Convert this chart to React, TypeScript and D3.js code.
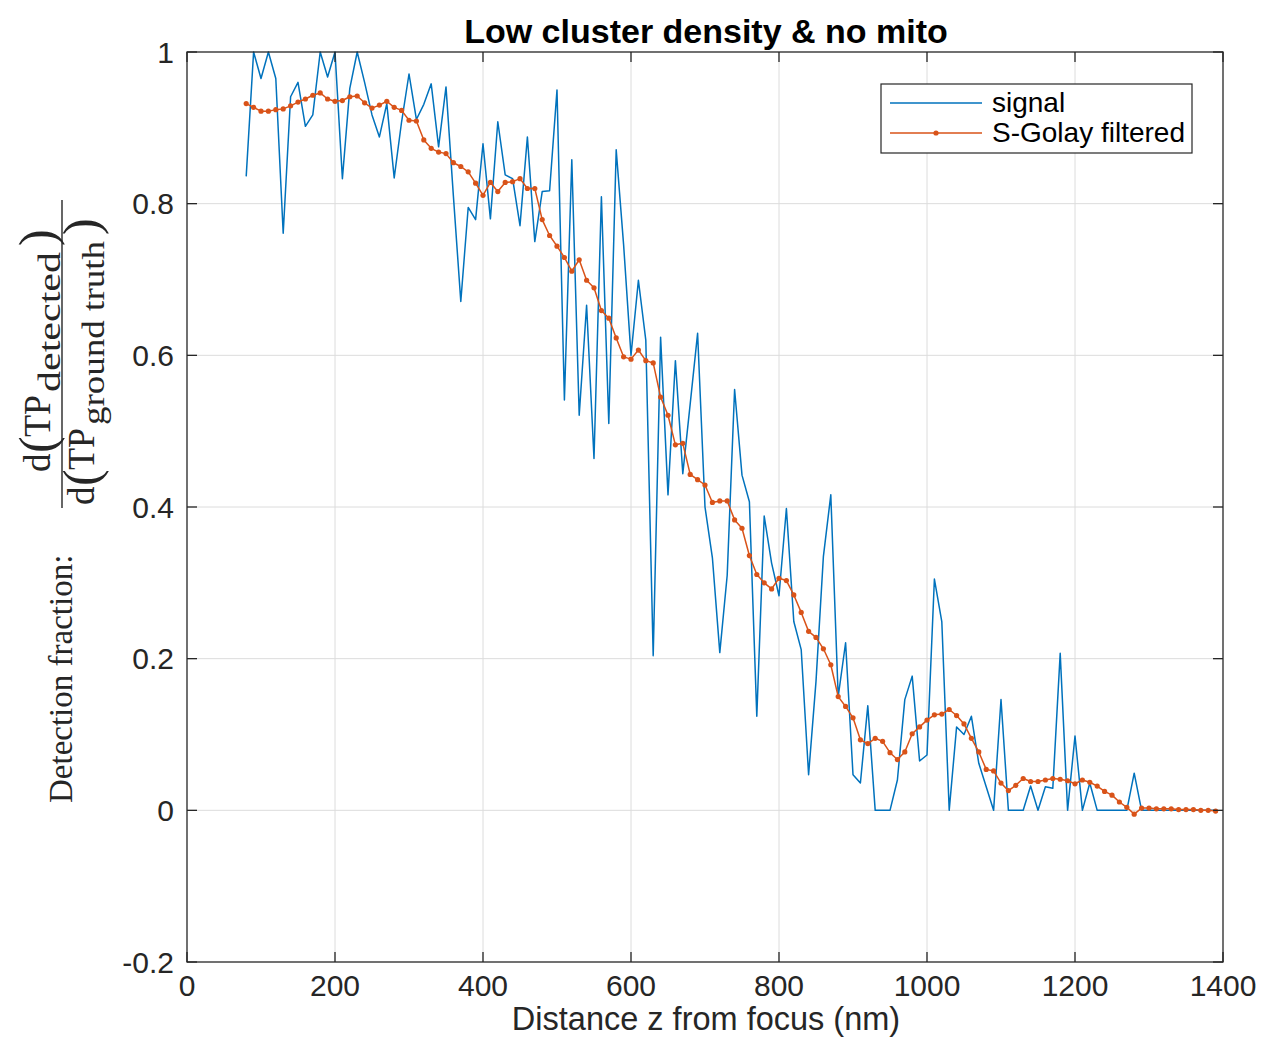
import React from 'react';
import * as d3 from 'd3';

const distanceNm = [
  80, 90, 100, 110, 120, 130, 140, 150, 160, 170,
  180, 190, 200, 210, 220, 230, 240, 250, 260, 270,
  280, 290, 300, 310, 320, 330, 340, 350, 360, 370,
  380, 390, 400, 410, 420, 430, 440, 450, 460, 470,
  480, 490, 500, 510, 520, 530, 540, 550, 560, 570,
  580, 590, 600, 610, 620, 630, 640, 650, 660, 670,
  680, 690, 700, 710, 720, 730, 740, 750, 760, 770,
  780, 790, 800, 810, 820, 830, 840, 850, 860, 870,
  880, 890, 900, 910, 920, 930, 940, 950, 960, 970,
  980, 990, 1000, 1010, 1020, 1030, 1040, 1050, 1060, 1070,
  1080, 1090, 1100, 1110, 1120, 1130, 1140, 1150, 1160, 1170,
  1180, 1190, 1200, 1210, 1220, 1230, 1240, 1250, 1260, 1270,
  1280, 1290, 1300, 1310, 1320, 1330, 1340, 1350, 1360, 1370,
  1380, 1390,
];

const signal = [
  0.836, 1.0, 0.965, 1.0, 0.965, 0.761, 0.941, 0.96, 0.902, 0.917,
  1.0, 0.967, 1.0, 0.833, 0.952, 1.0, 0.96, 0.917, 0.888, 0.932,
  0.834, 0.908, 0.971, 0.911, 0.931, 0.958, 0.875, 0.954, 0.81, 0.671,
  0.795, 0.779, 0.879, 0.78, 0.908, 0.838, 0.833, 0.771, 0.888, 0.75,
  0.816, 0.817, 0.95, 0.541, 0.858, 0.521, 0.666, 0.464, 0.809, 0.51,
  0.871, 0.746, 0.6, 0.699, 0.62, 0.204, 0.624, 0.416, 0.593, 0.444,
  0.536, 0.629, 0.4, 0.333, 0.208, 0.31, 0.555, 0.442, 0.407, 0.124,
  0.388, 0.326, 0.283, 0.398, 0.249, 0.212, 0.047, 0.17, 0.335, 0.416,
  0.15, 0.221, 0.047, 0.036, 0.138, 0, 0, 0, 0.04, 0.146,
  0.177, 0.065, 0.073, 0.305, 0.249, 0, 0.11, 0.1, 0.124, 0.062,
  0.031, 0, 0.146, 0, 0, 0, 0.032, 0, 0.031, 0.029,
  0.207, 0, 0.098, 0, 0.036, 0, 0, 0, 0, 0,
  0.049, 0, 0, 0, 0, 0, 0, 0, 0, 0,
  0, 0,
];

const sGolay = [
  0.932, 0.927, 0.922, 0.922, 0.924, 0.925, 0.929, 0.934, 0.938, 0.943,
  0.946, 0.938, 0.935, 0.936, 0.941, 0.942, 0.933, 0.926, 0.93, 0.935,
  0.927, 0.923, 0.91, 0.909, 0.884, 0.873, 0.868, 0.866, 0.854, 0.849,
  0.842, 0.827, 0.811, 0.828, 0.816, 0.828, 0.829, 0.833, 0.82, 0.82,
  0.779, 0.758, 0.744, 0.729, 0.711, 0.726, 0.699, 0.689, 0.659, 0.649,
  0.623, 0.598, 0.595, 0.607, 0.593, 0.59, 0.545, 0.521, 0.482, 0.484,
  0.443, 0.436, 0.429, 0.406, 0.408, 0.408, 0.383, 0.372, 0.336, 0.311,
  0.3, 0.292, 0.306, 0.303, 0.284, 0.261, 0.236, 0.228, 0.213, 0.192,
  0.15, 0.137, 0.122, 0.093, 0.088, 0.095, 0.091, 0.076, 0.067, 0.077,
  0.101, 0.11, 0.119, 0.126, 0.127, 0.133, 0.125, 0.114, 0.095, 0.077,
  0.054, 0.052, 0.036, 0.026, 0.033, 0.042, 0.038, 0.038, 0.04, 0.042,
  0.041, 0.039, 0.035, 0.04, 0.037, 0.032, 0.025, 0.02, 0.011, 0.004,
  -0.005, 0.003, 0.003, 0.002, 0.002, 0.002, 0.001, 0.001, 0.001, 0.0,
  0.0, -0.001,
];

const xTicks = [0, 200, 400, 600, 800, 1000, 1200, 1400];
const yTicks = [-0.2, 0, 0.2, 0.4, 0.6, 0.8, 1];
const yTickLabels = ['-0.2', '0', '0.2', '0.4', '0.6', '0.8', '1'];
const seriesNames = ['signal', 'S-Golay filtered'];

const BLUE = '#0072BD';
const ORANGE = '#D95319';
const AXIS = '#262626';
const GRID = '#dcdcdc';
const SANS = '"Liberation Sans", Arial, Helvetica, sans-serif';
const SERIF = '"Liberation Serif", "Times New Roman", serif';

export default function App() {
  const W = 1262;
  const H = 1039;
  const left = 187, right = 1223, top = 52, bottom = 962;
  const x = d3.scaleLinear().domain([0, 1400]).range([left, right]);
  const y = d3.scaleLinear().domain([-0.2, 1]).range([bottom, top]);

  const pts = distanceNm.map((d, i) => ({ d, s: signal[i], g: sGolay[i] }));
  const lineS = d3.line<any>().x((p) => x(p.d)).y((p) => y(p.s));
  const lineG = d3.line<any>().x((p) => x(p.d)).y((p) => y(p.g));
  const tickLen = 10;

  return (
    <svg width={W} height={H} style={{ position: 'absolute', left: 0, top: 0, background: '#fff' }}>
      <rect x={0} y={0} width={W} height={H} fill="#fff" />
      {xTicks.slice(1, -1).map((t) => (
        <line key={'gx' + t} x1={x(t)} x2={x(t)} y1={top} y2={bottom} stroke={GRID} strokeWidth={1} />
      ))}
      {yTicks.slice(1, -1).map((t) => (
        <line key={'gy' + t} x1={left} x2={right} y1={y(t)} y2={y(t)} stroke={GRID} strokeWidth={1} />
      ))}
      <defs>
        <clipPath id="plotClip">
          <rect x={left} y={top - 1} width={right - left} height={bottom - top + 2} />
        </clipPath>
      </defs>
      <g clipPath="url(#plotClip)">
        <path d={lineS(pts) || ''} fill="none" stroke={BLUE} strokeWidth={1.5} strokeLinejoin="round" />
        <path d={lineG(pts) || ''} fill="none" stroke={ORANGE} strokeWidth={1.5} strokeLinejoin="round" />
        {pts.map((p, i) => (
          <circle key={'m' + i} cx={x(p.d)} cy={y(p.g)} r={2.6} fill={ORANGE} />
        ))}
      </g>
      <rect x={left} y={top} width={right - left} height={bottom - top} fill="none" stroke={AXIS} strokeWidth={1.3} />
      {xTicks.map((t) => (
        <g key={'xt' + t}>
          <line x1={x(t)} x2={x(t)} y1={bottom} y2={bottom - tickLen} stroke={AXIS} strokeWidth={1.3} />
          <line x1={x(t)} x2={x(t)} y1={top} y2={top + tickLen} stroke={AXIS} strokeWidth={1.3} />
          <text x={x(t)} y={996} textAnchor="middle" fontFamily={SANS} fontSize={30} fill={AXIS}>
            {t}
          </text>
        </g>
      ))}
      {yTicks.map((t, i) => (
        <g key={'yt' + t}>
          <line x1={left} x2={left + tickLen} y1={y(t)} y2={y(t)} stroke={AXIS} strokeWidth={1.3} />
          <line x1={right} x2={right - tickLen} y1={y(t)} y2={y(t)} stroke={AXIS} strokeWidth={1.3} />
          <text x={174} y={y(t) + 10.5} textAnchor="end" fontFamily={SANS} fontSize={30} fill={AXIS}>
            {yTickLabels[i]}
          </text>
        </g>
      ))}
      <text x={706} y={43} textAnchor="middle" fontFamily={SANS} fontWeight="bold" fontSize={34} fill="#000">
        Low cluster density &amp; no mito
      </text>
      <text x={706} y={1030} textAnchor="middle" fontFamily={SANS} fontSize={32.5} fill={AXIS}>
        Distance z from focus (nm)
      </text>
      <g transform="rotate(-90)" fontFamily={SERIF} fill={AXIS}>
        <text x={-803} y={72} fontSize={33}>Detection fraction:</text>
        <line x1={-508} x2={-200} y1={62} y2={62} stroke={AXIS} strokeWidth={1.4} />
        <text x={-472} y={50} fontSize={37}>d</text>
        <text x={-453} y={54} fontSize={50}>(</text>
        <text x={-437} y={50} fontSize={37} textLength={42} lengthAdjust="spacingAndGlyphs">TP</text>
        <text x={-392} y={60} fontSize={31} textLength={140} lengthAdjust="spacingAndGlyphs">detected</text>
        <text x={-246} y={54} fontSize={50}>)</text>
        <text x={-505} y={94} fontSize={37}>d</text>
        <text x={-486} y={98} fontSize={50}>(</text>
        <text x={-470} y={94} fontSize={37} textLength={42} lengthAdjust="spacingAndGlyphs">TP</text>
        <text x={-425} y={104} fontSize={31} textLength={184} lengthAdjust="spacingAndGlyphs">ground truth</text>
        <text x={-235} y={98} fontSize={50}>)</text>
      </g>
      <rect x={881} y={84} width={311} height={69} fill="#fff" stroke={AXIS} strokeWidth={1.2} />
      <line x1={890} x2={982} y1={103} y2={103} stroke={BLUE} strokeWidth={1.5} />
      <line x1={890} x2={982} y1={133} y2={133} stroke={ORANGE} strokeWidth={1.5} />
      <circle cx={936} cy={133} r={2.6} fill={ORANGE} />
      <text x={992} y={112} fontFamily={SANS} fontSize={28} fill="#000">{seriesNames[0]}</text>
      <text x={992} y={142} fontFamily={SANS} fontSize={28} fill="#000">{seriesNames[1]}</text>
    </svg>
  );
}
